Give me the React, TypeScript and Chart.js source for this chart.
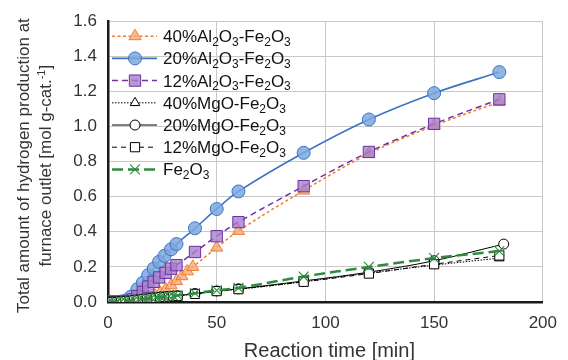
import { useEffect, useRef } from 'react';
import { Chart, registerables } from 'chart.js';
import { drawPoint } from 'chart.js/helpers';

Chart.register(...registerables);

const FONT = '"Liberation Sans", Arial, sans-serif';

const xTickValues = [0, 50, 100, 150, 200];
const yTickValues = [0, 0.2, 0.4, 0.6, 0.8, 1.0, 1.2, 1.4, 1.6];

const seriesLabels = [
  '40%Al2O3-Fe2O3',
  '20%Al2O3-Fe2O3',
  '12%Al2O3-Fe2O3',
  '40%MgO-Fe2O3',
  '20%MgO-Fe2O3',
  '12%MgO-Fe2O3',
  'Fe2O3',
];

const xTitle = 'Reaction time [min]';
const yTitleLine1 = 'Total amount of hydrogen production at';
const yTitleLine2 = 'furnace outlet [mol g-cat.^-1]';

// 40% Al2O3-Fe2O3
const timeAl40 = [0, 2, 4, 6, 8, 10, 13, 16, 18.5, 21.5, 24, 26.5, 29, 31.5, 34, 36.5, 39, 50, 60, 90, 120, 150, 180];
const valAl40 = [0, 0, 0, 0, 0, 0.002, 0.008, 0.015, 0.025, 0.038, 0.053, 0.072, 0.095, 0.12, 0.147, 0.175, 0.2, 0.31, 0.405, 0.635, 0.845, 1.005, 1.14];

// 20% Al2O3-Fe2O3
const timeAl20 = [0, 1.5, 3, 4.5, 6, 7.5, 9, 10.5, 13.5, 16, 18.5, 21, 23.5, 26, 29, 31.5, 40, 50, 60, 90, 120, 150, 180];
const valAl20 = [0, 0, 0, 0, 0.002, 0.005, 0.012, 0.03, 0.073, 0.11, 0.153, 0.19, 0.229, 0.263, 0.3, 0.33, 0.42, 0.53, 0.63, 0.85, 1.04, 1.19, 1.31];

// 12% Al2O3-Fe2O3
const timeAl12 = [0, 1.5, 3, 4.5, 6, 7.5, 9, 11.5, 13.5, 16, 18.5, 21, 23.5, 26.5, 29, 31.5, 40, 50, 60, 90, 120, 150, 180];
const valAl12 = [0, 0, 0, 0, 0, 0.002, 0.006, 0.015, 0.034, 0.058, 0.088, 0.115, 0.14, 0.166, 0.19, 0.21, 0.285, 0.375, 0.455, 0.66, 0.855, 1.015, 1.155];

// MgO series and Fe2O3
const timeMg = [0, 2, 4, 6, 8, 10, 12, 14, 16, 18, 20, 22, 24, 26, 28, 30, 32, 40, 50, 60, 90, 120, 150, 180];
const timeMg20 = [0, 2, 4, 6, 8, 10, 12, 14, 16, 18, 20, 22, 24, 26, 28, 30, 32, 40, 50, 60, 90, 120, 150, 182];
const valMg40 = [0, 0, 0, 0.002, 0.004, 0.006, 0.009, 0.012, 0.015, 0.018, 0.021, 0.024, 0.027, 0.029, 0.031, 0.033, 0.035, 0.045, 0.06, 0.072, 0.115, 0.165, 0.21, 0.25];
const valMg20 = [0, 0, 0.001, 0.002, 0.004, 0.007, 0.01, 0.013, 0.016, 0.019, 0.022, 0.025, 0.028, 0.03, 0.032, 0.034, 0.036, 0.048, 0.063, 0.075, 0.12, 0.17, 0.235, 0.33];
const valMg12 = [0, 0, 0, 0.002, 0.004, 0.006, 0.009, 0.012, 0.015, 0.018, 0.021, 0.024, 0.027, 0.029, 0.031, 0.033, 0.035, 0.046, 0.062, 0.073, 0.115, 0.162, 0.215, 0.265];
const timeFe = [0, 2, 4, 6, 8, 10, 12, 14, 16, 18, 20, 22, 24, 26, 28, 30, 32, 40, 50, 60, 90, 120, 150, 180];
const valFe = [0, 0, 0.001, 0.003, 0.005, 0.008, 0.011, 0.014, 0.017, 0.02, 0.023, 0.026, 0.029, 0.031, 0.033, 0.035, 0.037, 0.05, 0.066, 0.08, 0.145, 0.2, 0.25, 0.29];

const toPoints = (t: number[], v: number[]) => t.map((x, i) => ({ x, y: v[i] }));

type Seg = { t: string; m: 0 | 1 | 2 };
// m: 0 normal, 1 subscript, 2 superscript
function parseRich(s: string): Seg[] {
  const out: Seg[] = [];
  let i = 0;
  while (i < s.length) {
    if (s[i] === '^') {
      let j = i + 1;
      let t = '';
      while (j < s.length && /[-0-9]/.test(s[j])) { t += s[j]; j++; }
      out.push({ t, m: 2 });
      i = j;
      continue;
    }
    const c = s[i];
    if (/[0-9]/.test(c) && i > 0 && /[A-Za-z]/.test(s[i - 1])) {
      out.push({ t: c, m: 1 });
    } else {
      const last = out[out.length - 1];
      if (last && last.m === 0) last.t += c; else out.push({ t: c, m: 0 });
    }
    i++;
  }
  return out;
}

function richWidth(ctx: CanvasRenderingContext2D, segs: Seg[], size: number, small: number) {
  let w = 0;
  for (const s of segs) {
    ctx.font = `${s.m ? small : size}px ${FONT}`;
    w += ctx.measureText(s.t).width;
  }
  return w;
}

function drawRich(ctx: CanvasRenderingContext2D, text: string, x: number, baseline: number, size: number, small: number, align: 'left' | 'center') {
  const segs = parseRich(text);
  let cx = x;
  if (align === 'center') cx = x - richWidth(ctx, segs, size, small) / 2;
  ctx.textAlign = 'left';
  ctx.textBaseline = 'alphabetic';
  for (const s of segs) {
    ctx.font = `${s.m ? small : size}px ${FONT}`;
    const dy = s.m === 1 ? size * 0.22 : s.m === 2 ? -size * 0.38 : 0;
    ctx.fillText(s.t, cx, baseline + dy);
    cx += ctx.measureText(s.t).width;
  }
}

const overlayPlugin = {
  id: 'overlay',
  afterDraw(chart: any) {
    const ctx: CanvasRenderingContext2D = chart.ctx;
    const area = chart.chartArea;
    // legend
    chart.data.datasets.forEach((ds: any, i: number) => {
      const y = area.top + 15 + i * 22.2;
      const x0 = area.left + 4;
      ctx.save();
      ctx.strokeStyle = ds.borderColor;
      ctx.lineWidth = ds.borderWidth;
      ctx.setLineDash(ds.borderDash || []);
      ctx.beginPath();
      ctx.moveTo(x0, y);
      ctx.lineTo(x0 + 45, y);
      ctx.stroke();
      ctx.setLineDash([]);
      ctx.fillStyle = ds.pointBackgroundColor;
      ctx.strokeStyle = ds.pointBorderColor;
      ctx.lineWidth = ds.pointBorderWidth;
      drawPoint(ctx, { pointStyle: ds.pointStyle, radius: ds.pointRadius, rotation: 0, borderWidth: ds.pointBorderWidth } as any, x0 + 23, y);
      ctx.fillStyle = '#111';
      drawRich(ctx, ds.label, x0 + 51, y + 6, 17, 12, 'left');
      ctx.restore();
    });
    // axis titles
    ctx.save();
    ctx.fillStyle = '#333';
    drawRich(ctx, xTitle, (area.left + area.right) / 2 + 4, 357, 20, 14, 'center');
    ctx.translate(0, (area.top + area.bottom) / 2 + 4);
    ctx.rotate(-Math.PI / 2);
    drawRich(ctx, yTitleLine1, 0, 29, 17, 12, 'center');
    drawRich(ctx, yTitleLine2, 0, 51, 17, 11, 'center');
    ctx.restore();
  },
};

export default function App() {
  const ref = useRef<HTMLCanvasElement | null>(null);
  useEffect(() => {
    if (!ref.current) return;
    const mk = (
      i: number, t: number[], v: number[], color: string, width: number, dash: number[],
      style: string, radius: number, fill: string, pBorder: string, pWidth: number
    ) => ({
      label: seriesLabels[i],
      data: toPoints(t, v),
      borderColor: color,
      borderWidth: width,
      borderDash: dash,
      pointStyle: style,
      pointRadius: radius,
      pointBackgroundColor: fill,
      pointBorderColor: pBorder,
      pointBorderWidth: pWidth,
      tension: 0.35,
      order: 10 - i,
      fill: false,
    });
    const datasets = [
      mk(0, timeAl40, valAl40, '#ED7D31', 1.5, [3, 2.5], 'triangle', 7, 'rgba(246,170,125,0.8)', '#ED7D31', 1),
      mk(1, timeAl20, valAl20, '#3D72C0', 1.6, [], 'circle', 6.5, 'rgba(125,168,222,0.85)', '#3D72C0', 1),
      mk(2, timeAl12, valAl12, '#7030A0', 1.5, [6, 4], 'rect', 8, 'rgba(165,128,205,0.8)', '#7030A0', 1),
      mk(3, timeMg, valMg40, '#000000', 1, [1.5, 1.5], 'triangle', 5.5, '#ffffff', '#000000', 1),
      mk(4, timeMg20, valMg20, '#000000', 1, [], 'circle', 5, '#ffffff', '#000000', 1),
      mk(5, timeMg, valMg12, '#000000', 1, [5, 4], 'rect', 6.5, '#ffffff', '#000000', 1),
      mk(6, timeFe, valFe, '#2E8B3E', 2.5, [11, 5], 'crossRot', 7, '#2E8B3E', '#2E8B3E', 1.1),
    ];
    const chart = new Chart(ref.current, {
      type: 'line',
      data: { datasets },
      options: {
        animation: false,
        responsive: false,
        devicePixelRatio: 1,
        layout: { padding: { left: 0, right: 18, top: 20, bottom: 0 } },
        plugins: { legend: { display: false }, tooltip: { enabled: false } },
        scales: {
          x: {
            type: 'linear',
            min: 0,
            max: 200,
            afterBuildTicks: (s: any) => { s.ticks = xTickValues.map((value) => ({ value })); },
            afterFit: (s: any) => { s.height = 58; },
            grid: { color: '#c8c8c8', lineWidth: 1, drawTicks: false },
            border: { color: '#1a1a1a', width: 2.5 },
            ticks: { color: '#333', font: { family: FONT, size: 17 }, padding: 11 },
          },
          y: {
            type: 'linear',
            min: 0,
            max: 1.6,
            afterBuildTicks: (s: any) => { s.ticks = yTickValues.map((value) => ({ value })); },
            afterFit: (s: any) => { s.width = 108; },
            grid: { color: '#c8c8c8', lineWidth: 1, drawTicks: false },
            border: { color: '#1a1a1a', width: 2.5 },
            ticks: {
              color: '#333',
              font: { family: FONT, size: 17 },
              padding: 11,
              callback: (v: any) => Number(v).toFixed(1),
            },
          },
        },
      },
      plugins: [overlayPlugin],
    });
    return () => chart.destroy();
  }, []);
  return (
    <div style={{ position: 'fixed', left: 0, top: 0, width: 568, height: 360, background: '#fff' }}>
      <canvas ref={ref} width={568} height={360} />
    </div>
  );
}
